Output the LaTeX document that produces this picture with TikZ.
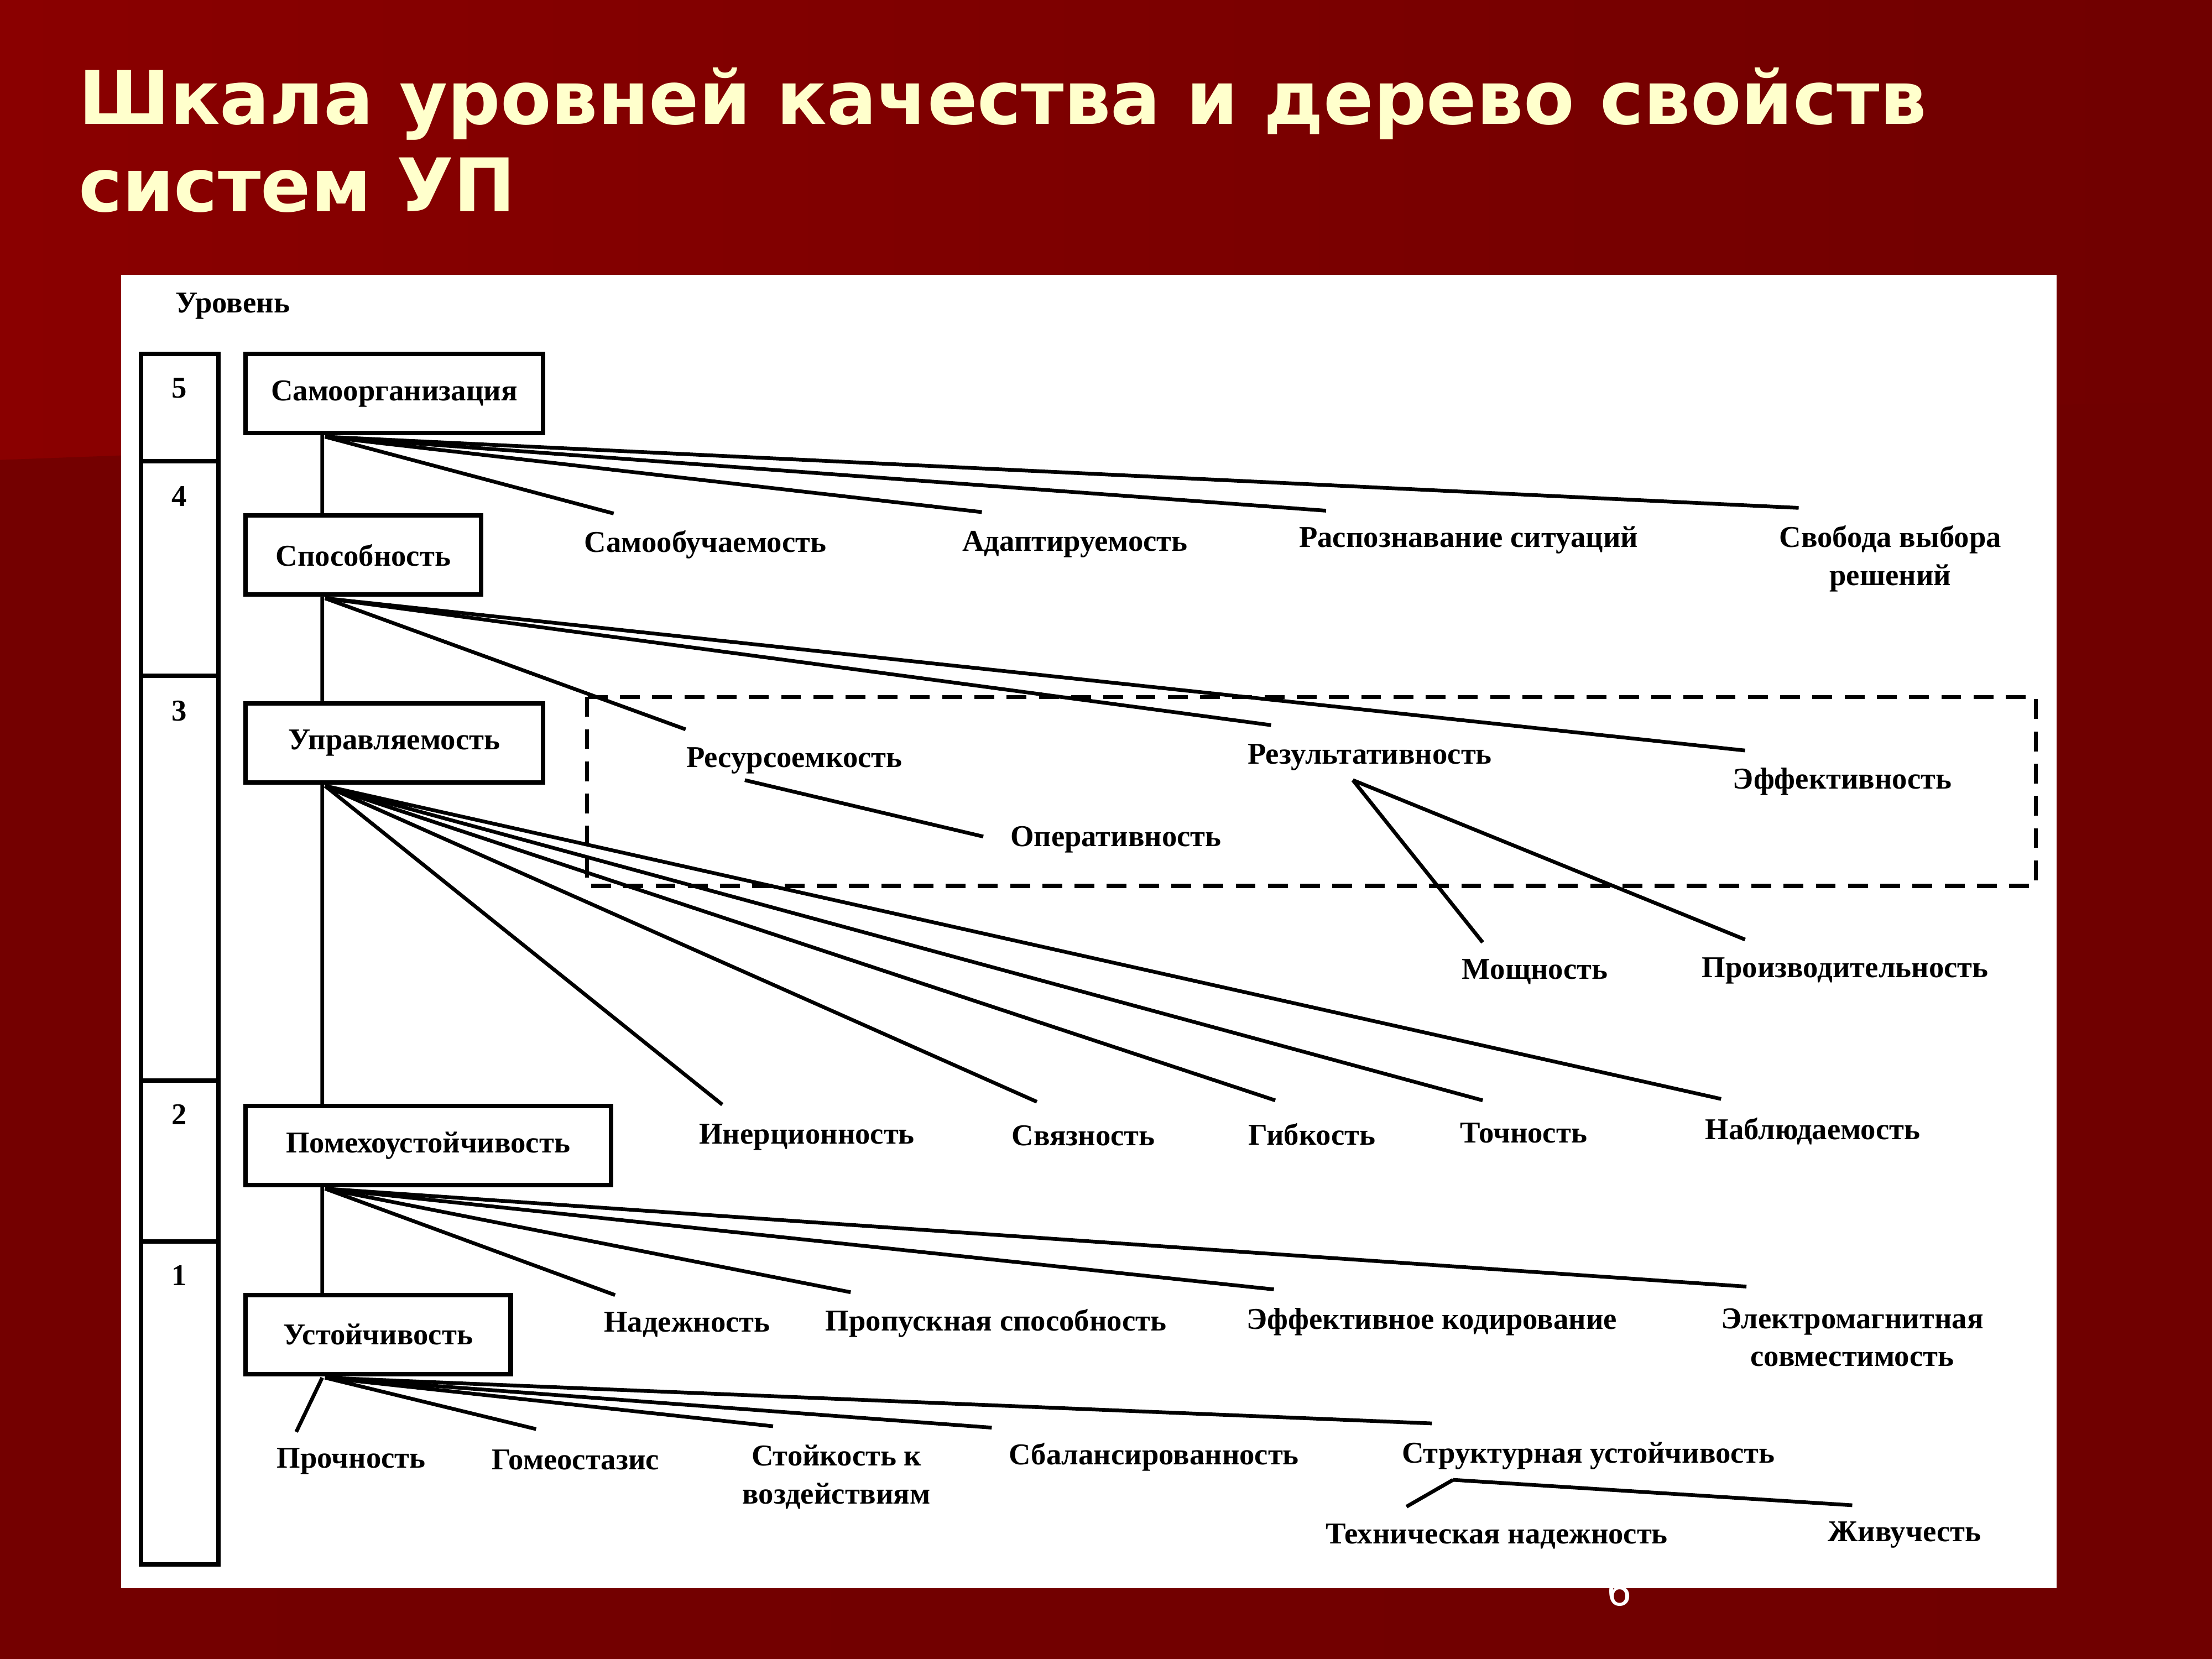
\documentclass[tikz,border=0pt]{standalone}
\usepackage{fontspec}
\setmainfont{Liberation Serif}
\newfontfamily\titlefont{DejaVu Sans}
\usetikzlibrary{calc}
\definecolor{bgL}{RGB}{138,0,0}
\definecolor{bgR}{RGB}{112,0,0}
\definecolor{bgLowL}{RGB}{116,0,0}
\definecolor{bgLowR}{RGB}{112,0,0}
\definecolor{cream}{RGB}{255,255,204}
\begin{document}
\begin{tikzpicture}[x=0.1mm,y=-0.1mm,
  lab/.style={font=\bfseries\fontsize{6.1}{7.6}\selectfont, inner sep=0pt, align=center},
  box/.style={draw, line width=0.9pt, inner sep=0pt, minimum height=5.6mm,
    font=\bfseries\fontsize{6.1}{7.6}\selectfont},
  fan/.style={line width=0.75pt},
  lvl/.style={line width=0.9pt},
  ttl/.style={font=\titlefont\bfseries\fontsize{14.9}{18}\selectfont, text=cream, inner sep=0pt, anchor=base west}]
\useasboundingbox (0,0) rectangle (1568,1176);
% background
\shade[left color=bgL, right color=bgR] (0,0) rectangle (1568,1176);
\shade[left color=bgLowL, right color=bgLowR] (0,326) .. controls (300,315) and (700,300) .. (1568,285) -- (1568,1176) -- (0,1176) -- cycle;
% page number (partly hidden by the panel)
\node[font=\titlefont\fontsize{8}{10}\selectfont, text=white, inner sep=0pt] (pg) at (1148,1128) {6};
% panel
\fill[white] (86,195) rectangle (1458,1126);
% title
\node[ttl] (t1) at (55,88) {Шкала уровней качества и дерево свойств};
\node[ttl] (t2) at (55,150) {систем УП};

% level scale
\node[lab] (ur) at (165,217) {Уровень};
\draw[lvl] (100,251) rectangle (155,1109);
\draw[lvl] (100,327) -- (155,327);
\draw[lvl] (100,479) -- (155,479);
\draw[lvl] (100,766) -- (155,766);
\draw[lvl] (100,880) -- (155,880);
\node[lab] (n5) at (127,275) {5};
\node[lab] (n4) at (127,352) {4};
\node[lab] (n3) at (127,504) {3};
\node[lab] (n2) at (127,790) {2};
\node[lab] (n1) at (127,904) {1};

% main boxes
\node[box, minimum width=21.1mm] (b5) at (279.5,279) {Самоорганизация};
\node[box, minimum width=16.7mm] (b4) at (257.5,393.5) {Способность};
\node[box, minimum width=21.1mm] (b3) at (279.5,526.5) {Управляемость};
\node[box, minimum width=25.9mm] (b2) at (303.5,812) {Помехоустойчивость};
\node[box, minimum width=18.8mm] (b1) at (268,946) {Устойчивость};

% spine
\draw[fan] ($(b5.south west)+(56,0)$) -- ($(b4.north west)+(56,0)$);
\draw[fan] ($(b4.south west)+(56,0)$) -- ($(b3.north west)+(56,0)$);
\draw[fan] ($(b3.south west)+(56,0)$) -- ($(b2.north west)+(56,0)$);
\draw[fan] ($(b2.south west)+(56,0)$) -- ($(b1.north west)+(56,0)$);

% hubs
\coordinate (h5) at ($(b5.south west)+(58,1)$);
\coordinate (h4) at ($(b4.south west)+(58,1)$);
\coordinate (h3) at ($(b3.south west)+(58,1)$);
\coordinate (h2) at ($(b2.south west)+(58,1)$);
\coordinate (h1) at ($(b1.south west)+(58,1)$);

% level 5 children
\node[lab] (a1) at (500,386) {Самообучаемость};
\node[lab] (a2) at (762,386) {Адаптируемость};
\node[lab] (a3) at (1041,383) {Распознавание ситуаций};
\node[lab] (a4) at (1340,396) {Свобода выбора\\решений};
\coordinate (a1e) at (435,364);
\coordinate (a2e) at (696,363);
\coordinate (a3e) at (940,362);
\coordinate (a4e) at (1275,360);
\foreach \e in {a1e,a2e,a3e,a4e} \draw[fan] (h5) -- (\e);

% level 4 children (dashed group)
\draw[line width=0.8pt, dash pattern=on 4pt off 2.5pt] (416,494) rectangle (1443,628);
\node[lab] (c1) at (563,539) {Ресурсоемкость};
\node[lab] (c2) at (791,595) {Оперативность};
\node[lab] (c3) at (971,537) {Результативность};
\node[lab] (c4) at (1306,554) {Эффективность};
\node[lab] (c5) at (1088,689) {Мощность};
\node[lab] (c6) at (1308,688) {Производительность};
\coordinate (c1e) at (486,517);
\coordinate (c3e) at (901,514);
\coordinate (c4e) at (1237,532);
\foreach \e in {c1e,c3e,c4e} \draw[fan] (h4) -- (\e);
\coordinate (c1s) at (528,553);
\coordinate (c2e) at (697,593);
\draw[fan] (c1s) -- (c2e);
\coordinate (c3s) at (959,553);
\coordinate (c5e) at (1051,668);
\coordinate (c6e) at (1237,666);
\draw[fan] (c3s) -- (c5e);
\draw[fan] (c3s) -- (c6e);

% level 3 children
\node[lab] (d1) at (572,806) {Инерционность};
\node[lab] (d2) at (768,805) {Связность};
\node[lab] (d3) at (930,804) {Гибкость};
\node[lab] (d4) at (1080,803) {Точность};
\node[lab] (d5) at (1285,802) {Наблюдаемость};
\coordinate (d1e) at (512,783);
\coordinate (d2e) at (735,781);
\coordinate (d3e) at (904,780);
\coordinate (d4e) at (1051,780);
\coordinate (d5e) at (1220,779);
\foreach \e in {d1e,d2e,d3e,d4e,d5e} \draw[fan] (h3) -- (\e);

% level 2 children
\node[lab] (f1) at (487,939) {Надежность};
\node[lab] (f2) at (706,938) {Пропускная способность};
\node[lab] (f3) at (1015,937) {Эффективное кодирование};
\node[lab] (f4) at (1313,948) {Электромагнитная\\совместимость};
\coordinate (f1e) at (436,918);
\coordinate (f2e) at (603,916);
\coordinate (f3e) at (903,914);
\coordinate (f4e) at (1238,912);
\foreach \e in {f1e,f2e,f3e,f4e} \draw[fan] (h2) -- (\e);

% level 1 children
\node[lab] (g1) at (249,1036) {Прочность};
\node[lab] (g2) at (408,1035) {Гомеостазис};
\node[lab] (g3) at (593,1047) {Стойкость к\\воздействиям};
\node[lab] (g4) at (818,1033) {Сбалансированность};
\node[lab] (g5) at (1126,1032) {Структурная устойчивость};
\node[lab] (g6) at (1061,1089) {Техническая надежность};
\node[lab] (g7) at (1350,1088) {Живучесть};
\coordinate (g1e) at (210,1015);
\coordinate (g2e) at (380,1013);
\coordinate (g3e) at (548,1011);
\coordinate (g4e) at (703,1012);
\coordinate (g5e) at (1015,1009);
\draw[fan] ($(b1.south west)+(56,1)$) -- (g1e);
\foreach \e in {g2e,g3e,g4e,g5e} \draw[fan] (h1) -- (\e);
\coordinate (g5s) at (1030,1049);
\coordinate (g6e) at (997,1068);
\coordinate (g7e) at (1313,1067);
\draw[fan] (g5s) -- (g6e);
\draw[fan] (g5s) -- (g7e);
\end{tikzpicture}
\end{document}
